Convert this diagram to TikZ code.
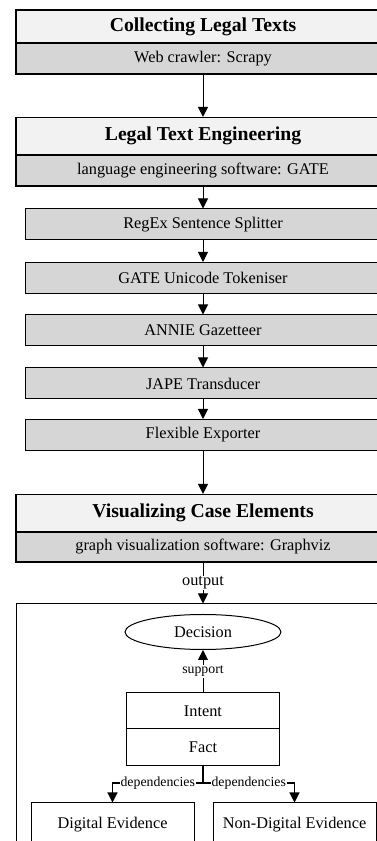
\documentclass[tikz,border=0pt]{standalone}
\usepackage{fontspec}
\setmainfont{Liberation Serif}
\usetikzlibrary{arrows.meta,shapes.geometric}

\begin{document}
\begin{tikzpicture}[x=1pt,y=1pt]
    \tikzstyle{phase}=[draw=black,line width=1.2pt,fill=gray!10,inner sep=0pt,minimum width=374pt,font=\fontsize{19.7}{22}\selectfont\bfseries]
    \tikzstyle{tool}=[draw=black,line width=1.2pt,fill=black!16,inner sep=0pt,minimum width=374pt,minimum height=31pt,font=\fontsize{16.3}{19}\selectfont]
    \tikzstyle{module}=[draw=black,line width=1pt,fill=black!16,inner sep=0pt,minimum width=356pt,minimum height=31pt,font=\fontsize{16.3}{19}\selectfont]
    \tikzstyle{element}=[draw=black,line width=1pt,fill=white,inner sep=0pt,font=\fontsize{16.3}{19}\selectfont]
    \tikzstyle{tag}=[fill=white,inner sep=1pt,font=\fontsize{13.8}{16}\selectfont]
    \tikzstyle{flow}=[line width=1pt,-{Triangle[width=10pt,length=10pt]}]
    \useasboundingbox (0,0) rectangle (377,841);
    \clip (0,0) rectangle (377,841);
    % collecting
    \node[phase,minimum height=33pt] (collect) at (203,814.5) {Collecting Legal Texts};
    \node[tool] (scrapy) at (203,782.5) {Web crawler: Scrapy};
    % engineering
    \node[phase,minimum height=37.5pt] (engineer) at (203,704.75) {Legal Text Engineering};
    \node[tool] (gate) at (203,670.5) {language engineering software: GATE};
    \node[module] (splitter) at (203,616.5) {RegEx Sentence Splitter};
    \node[module] (tokeniser) at (203,563) {GATE Unicode Tokeniser};
    \node[module] (gazetteer) at (203,510.5) {ANNIE Gazetteer};
    \node[module] (transducer) at (203,457.5) {JAPE Transducer};
    \node[module] (exporter) at (203,406) {Flexible Exporter};
    % visualizing
    \node[phase,minimum height=37.5pt] (visual) at (203,327.75) {Visualizing Case Elements};
    \node[tool,minimum height=30pt] (graphviz) at (203,294) {graph visualization software: Graphviz};
    \node[draw=black,line width=1pt,inner sep=0pt,minimum width=374pt,minimum height=257pt] (frame) at (203,108.5) {};
    \node[element,ellipse,minimum width=156pt,minimum height=35pt] (decision) at (203,209) {Decision};
    \node[element,minimum width=153pt,minimum height=36pt] (intent) at (203,130) {Intent};
    \node[element,minimum width=153pt,minimum height=37pt] (fact) at (203,93.5) {Fact};
    \node[element,minimum width=163pt,minimum height=43pt] (digital) at (112.5,16.5) {Digital Evidence};
    \node[element,minimum width=163pt,minimum height=43pt] (nondigital) at (294.5,16.5) {Non-Digital Evidence};
    \coordinate (split) at (203,58);

    \draw[flow] (scrapy) -- (engineer);
    \draw[flow] (gate) -- (splitter);
    \draw[flow] (splitter) -- (tokeniser);
    \draw[flow] (tokeniser) -- (gazetteer);
    \draw[flow] (gazetteer) -- (transducer);
    \draw[flow] (transducer) -- (exporter);
    \draw[flow] (exporter) -- (visual);
    \draw[flow] (graphviz) -- node[tag,font=\fontsize{16.3}{19}\selectfont] {output} (frame.north);
    \draw[flow] (intent) -- node[tag] {support} (decision);
    \draw[line width=1.2pt] (fact) -- (split);
    \draw[flow,line width=1.2pt] (split) -| node[tag,pos=0.25] {dependencies} (digital);
    \draw[flow,line width=1.2pt] (split) -| node[tag,pos=0.25] {dependencies} (nondigital);
\end{tikzpicture}
\end{document}
